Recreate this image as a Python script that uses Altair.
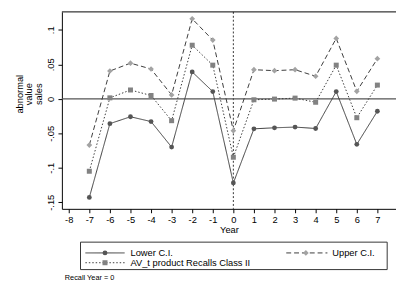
import altair as alt
import pandas as pd

years = list(range(-7, 8))
lower = [-0.143, -0.036, -0.026, -0.033, -0.070, 0.039, 0.0105, -0.122,
         -0.0435, -0.042, -0.041, -0.043, 0.0105, -0.066, -0.018]
av = [-0.105, 0.0014, 0.0128, 0.0048, -0.0317, 0.0777, 0.0488, -0.0847,
      -0.0014, -0.0004, 0.001, -0.005, 0.0488, -0.0274, 0.0199]
upper = [-0.067, 0.0403, 0.0517, 0.0432, 0.0057, 0.116, 0.0852, -0.0463,
         0.0422, 0.0408, 0.0422, 0.0327, 0.0876, 0.0109, 0.0582]
x_ticks = list(range(-8, 8))
y_ticks = [-0.15, -0.1, -0.05, 0, 0.05, 0.1]
legend_labels = ["Lower C.I.", "Upper C.I.", "AV_t product Recalls Class II"]
note = "Recall Year = 0"
y_title = ["abnormal", "value", "sales"]

df = pd.DataFrame({"year": years, "lower": lower, "av": av, "upper": upper})
one = pd.DataFrame({"k": [0]})

FONT = "Liberation Sans"
LINE = "#3a3a3a"
C_LOW = "#555555"
C_UP = "#a3a3a3"
C_AV = "#828282"

xscale = alt.Scale(domain=[-8.333, 7.905], nice=False, zero=False)
yscale = alt.Scale(domain=[-0.1595, 0.126], nice=False, zero=False)

base = alt.Chart(df)

xaxis = alt.Axis(values=x_ticks, title="Year", grid=False, tickSize=4,
                 labelPadding=2, titlePadding=1, labelFlush=False,
                 labelExpr="datum.value + ''")
yaxis = alt.Axis(values=y_ticks, title=None, grid=False, tickSize=4,
                 labelAngle=270, labelAlign="center", labelBaseline="bottom",
                 labelPadding=3, labelExpr="replace(datum.value + '', '0.', '.')")

zero_h = alt.Chart(one).mark_rule(color="#555555", strokeWidth=1.3).encode(
    y=alt.datum(0, scale=yscale, axis=yaxis),
    x=alt.value(0), x2=alt.value(341))
zero_v = alt.Chart(one).mark_rule(color="#333333", strokeWidth=1, strokeDash=[2, 2]).encode(
    x=alt.datum(0, scale=xscale, axis=xaxis),
    y=alt.value(0), y2=alt.value(201))
top = alt.Chart(one).mark_rule(color="#000000", strokeWidth=1).encode(
    x=alt.value(0), x2=alt.value(341), y=alt.value(0))


def series(col, dash, shape, color, size):
    enc = dict(x=alt.X("year:Q", scale=xscale, axis=xaxis),
               y=alt.Y(f"{col}:Q", scale=yscale, axis=yaxis))
    ln = base.mark_line(color=LINE, strokeWidth=1, strokeDash=dash).encode(**enc)
    pt = base.mark_point(shape=shape, filled=True, color=color, opacity=1, size=size).encode(**enc)
    return [ln, pt]


layers = [zero_v, zero_h, top]
layers += series("av", [1.5, 2], "square", C_AV, 26)
layers += series("upper", [5, 3], "diamond", C_UP, 34)
layers += series("lower", [1, 0], "circle", C_LOW, 24)

# y title: three rotated lines
ytitles = []
for i, line in enumerate(y_title):
    ytitles.append(alt.Chart(one).mark_text(
        align="center", baseline="middle", angle=270,
        fontSize=9.5, font=FONT, color="#000").encode(
        x=alt.value(-43 + 10 * i), y=alt.value(84), text=alt.value(line)))

# legend (manual)
box = alt.Chart(one).mark_rect(fill="white", stroke="#333333", strokeWidth=1).encode(
    x=alt.value(19), x2=alt.value(332), y=alt.value(235), y2=alt.value(263))
leg = [box]
items = [
    (24, 64, 44, 246, 70, [1, 0], "circle", C_LOW, 24, legend_labels[0]),
    (229, 271, 249, 246, 276, [5, 3], "diamond", C_UP, 34, legend_labels[1]),
    (24, 64, 44, 256, 70, [1.5, 2], "square", C_AV, 26, legend_labels[2]),
]
for x1, x2, xm, yy, xt, dash, shape, color, size, label in items:
    leg.append(alt.Chart(one).mark_rule(color=LINE, strokeWidth=1, strokeDash=dash).encode(
        x=alt.value(x1), x2=alt.value(x2), y=alt.value(yy)))
    leg.append(alt.Chart(one).mark_point(shape=shape, filled=True, color=color, opacity=1, size=size).encode(
        x=alt.value(xm), y=alt.value(yy)))
    leg.append(alt.Chart(one).mark_text(align="left", baseline="middle", fontSize=9.5, font=FONT,
                                        color="#000").encode(
        x=alt.value(xt), y=alt.value(yy), text=alt.value(label)))

note_t = alt.Chart(one).mark_text(align="left", baseline="middle", fontSize=7.5, font=FONT,
                                  color="#000").encode(
    x=alt.value(3), y=alt.value(272), text=alt.value(note))

chart = alt.layer(*layers, *ytitles, *leg, note_t).properties(
    width=341, height=201,
    autosize=alt.AutoSizeParams(type="none"),
    padding={"left": 55, "top": 1, "right": 0, "bottom": 87},
    background="white",
).configure_view(stroke=None).configure_axis(
    domainColor="#000", tickColor="#000", labelColor="#000", titleColor="#000",
    labelFont=FONT, titleFont=FONT, labelFontSize=9.5, titleFontSize=9.5,
    titleFontWeight="normal", domainWidth=1, tickWidth=1,
)

chart.save("out.html", embed_options={"renderer": "svg", "actions": False})
